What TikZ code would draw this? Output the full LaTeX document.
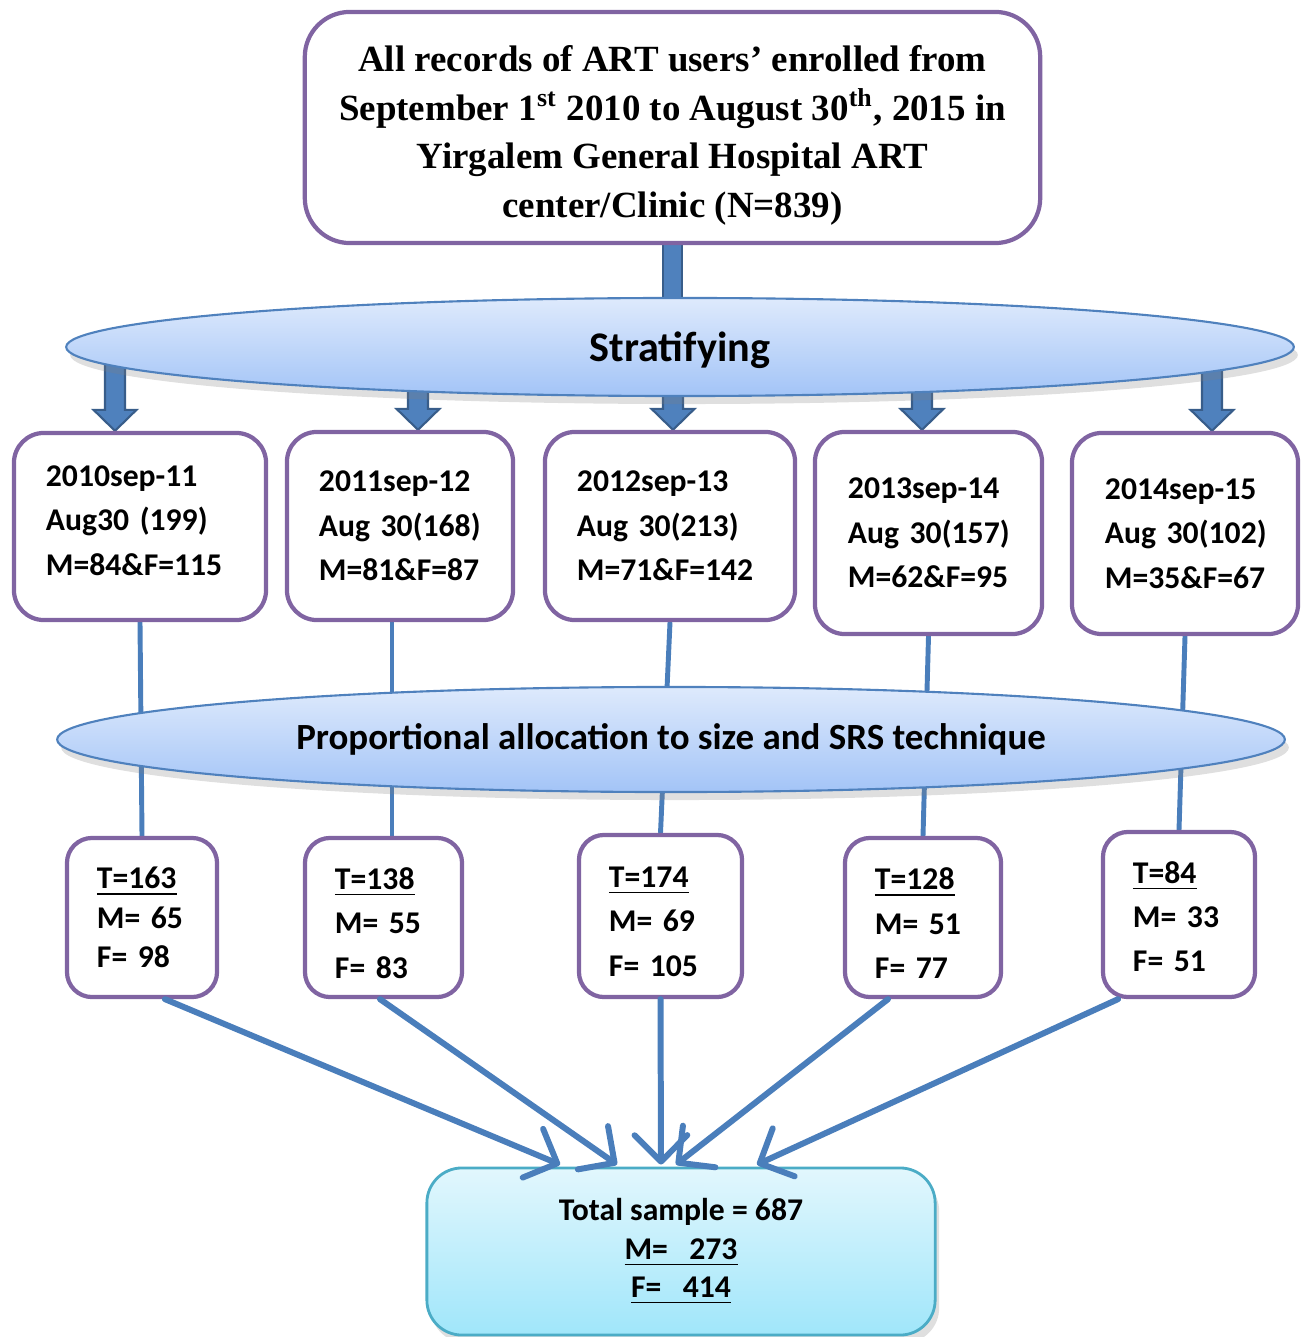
\documentclass[tikz,border=0pt]{standalone}
\usepackage{fontspec}
\setmainfont{Liberation Serif}
\newfontfamily\calibri{Carlito}
\usetikzlibrary{shapes.geometric,arrows.meta,calc,shadows,backgrounds}

\definecolor{boxpurple}{RGB}{128,100,162}
\definecolor{lineblue}{RGB}{74,126,187}
\definecolor{arrowblue}{RGB}{79,129,189}
\definecolor{arrowdark}{RGB}{56,93,138}
\definecolor{ovaltop}{RGB}{222,234,252}
\definecolor{ovalbottom}{RGB}{163,196,247}
\definecolor{ovalline}{RGB}{79,129,189}
\definecolor{totaltop}{RGB}{226,247,253}
\definecolor{totalbottom}{RGB}{160,230,250}
\definecolor{totalline}{RGB}{75,172,198}

\begin{document}
\begin{tikzpicture}[x=0.01cm, y=-0.01cm,
    stagebox/.style={draw=boxpurple, line width=1.2pt, fill=white, rounded corners=0.3cm,
        align=left, inner xsep=0.32cm, font=\calibri\bfseries\fontsize{9}{12.6}\selectfont},
    samplebox/.style={stagebox, rounded corners=0.25cm, inner xsep=0.3cm},
    oval/.style={ellipse, draw=ovalline, line width=0.6pt, top color=ovaltop, bottom color=ovalbottom,
        drop shadow={opacity=0.25, shadow xshift=0.4mm, shadow yshift=-0.8mm}},
    fatarrow/.style={fill=arrowblue, draw=arrowdark, line width=0.6pt, line join=miter},
    linkline/.style={draw=lineblue, line width=1.4pt},
    sumarrow/.style={draw=lineblue, line width=1.7pt, line cap=round,
        -{Straight Barb[length=7.5pt, width=15pt, round]}}]
  \useasboundingbox (0,0) rectangle (1303,1337);

  % source
  \node[draw=boxpurple, line width=1.2pt, fill=white, rounded corners=0.45cm,
        minimum width=7.35cm, minimum height=2.31cm, align=center,
        font=\bfseries\fontsize{10.5}{13.8}\selectfont] (top) at (672.5,127.5)
    {\rule{0pt}{0.42cm}All records of ART users’ enrolled from\\
     September 1\textsuperscript{st} 2010 to August 30\textsuperscript{th}, 2015 in\\
     Yirgalem General Hospital ART\\
     center/Clinic (N=839)\rule[-0.05cm]{0pt}{0pt}};

  \node[oval, minimum width=12.27cm, minimum height=0.98cm, text depth=0pt,
        font=\calibri\bfseries\fontsize{12}{14}\selectfont] (strat) at (680,347) {Stratifying};

  % strata
  \node[stagebox, minimum width=2.52cm, minimum height=1.87cm, text width=1.88cm] (yr1) at (140,526.5)
    {2010sep-11\\Aug30~(199)\\M=84\&F=115\rule[-0.12cm]{0pt}{0pt}};
  \node[stagebox, minimum width=2.26cm, minimum height=1.88cm, text width=1.62cm] (yr2) at (400,526)
    {2011sep-12\\Aug~30(168)\\M=81\&F=87};
  \node[stagebox, minimum width=2.50cm, minimum height=1.88cm, text width=1.86cm] (yr3) at (670,526)
    {2012sep-13\\Aug~30(213)\\M=71\&F=142};
  \node[stagebox, minimum width=2.27cm, minimum height=2.02cm, text width=1.61cm] (yr4) at (928.5,533)
    {2013sep-14\\Aug~30(157)\\M=62\&F=95};
  \node[stagebox, minimum width=2.26cm, minimum height=2.01cm, text width=1.60cm] (yr5) at (1185,533.5)
    {2014sep-15\\Aug~30(102)\\M=35\&F=67};

  \node[oval, minimum width=12.27cm, minimum height=1.05cm,
        font=\calibri\bfseries\fontsize{10.5}{13}\selectfont] (prop) at (671,739.5)
    {Proportional allocation to size and SRS technique};

  % samples per stratum
  \node[samplebox, minimum width=1.50cm, minimum height=1.59cm, text width=0.90cm,
        font=\calibri\bfseries\fontsize{9}{11.2}\selectfont] (lb1) at (142,917.5)
    {\underline{T=163}\\M=~65\\F=~98};
  \node[samplebox, minimum width=1.57cm, minimum height=1.59cm, text width=0.97cm] (lb2) at (383.5,917.5)
    {\rule{0pt}{0.33cm}\underline{T=138}\\M=~55\\F=~83};
  \node[samplebox, minimum width=1.63cm, minimum height=1.62cm, text width=1.03cm] (lb3) at (660.5,916)
    {\rule{0pt}{0.32cm}\underline{T=174}\\M=~69\\F=~105};
  \node[samplebox, minimum width=1.56cm, minimum height=1.59cm, text width=0.96cm] (lb4) at (923,917.5)
    {\rule{0pt}{0.33cm}\underline{T=128}\\M=~51\\F=~77};
  \node[samplebox, minimum width=1.52cm, minimum height=1.65cm, text width=0.92cm] (lb5) at (1179,914.5)
    {\rule{0pt}{0.26cm}\underline{T=84}\\M=~33\\F=~51};

  \node[draw=totalline, line width=0.8pt, rounded corners=0.35cm, top color=totaltop, bottom color=totalbottom,
        minimum width=5.08cm, minimum height=1.67cm, align=center,
        drop shadow={opacity=0.25, shadow xshift=0.4mm, shadow yshift=-0.8mm},
        font=\calibri\bfseries\fontsize{9}{11}\selectfont] (total) at (681,1251.5)
    {Total sample = 687\\\underline{M=\ \ \ 273}\\\underline{F=\ \ \ 414}};

  \begin{scope}[on background layer]
    \draw[draw=arrowdark, line width=0.6pt, double=arrowblue, double distance=0.17cm]
      (top.south) -- (top.south |- strat.center);
    \foreach \b/\dx in {yr1/-25, yr2/18, yr3/3, yr4/-6.5, yr5/27}
      \draw[fatarrow] let \p1=($(\b.north)+(\dx,0)$), \p2=(strat.center) in
        (\x1-0.1cm,\y2) -- (\x1+0.1cm,\y2) -- (\x1+0.1cm,\y1+0.21cm) -- (\x1+0.215cm,\y1+0.21cm)
        -- (\x1,\y1) -- (\x1-0.215cm,\y1+0.21cm) -- (\x1-0.1cm,\y1+0.21cm) -- cycle;
    \foreach \a/\b/\ax/\bx in {yr1/lb1/0/0, yr2/lb2/-8/8.5, yr3/lb3/0/0, yr4/lb4/0/0, yr5/lb5/0/0}
      \draw[linkline] ($(\a.south)+(\ax,0)$) -- ($(\b.north)+(\bx,0)$);
  \end{scope}

  \foreach \b/\sx/\ex in {lb1/23/-121, lb2/-3.5/-64, lb3/0/-20, lb4/-35/-5, lb5/-61/76}
    \draw[sumarrow] ($(\b.south)+(\sx,0)$) -- ($(total.north)+(\ex,-2)$);

\end{tikzpicture}
\end{document}
